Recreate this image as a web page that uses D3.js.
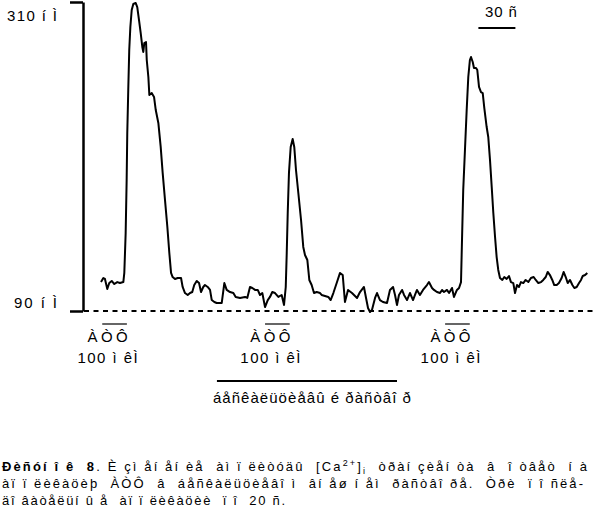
<!DOCTYPE html>
<html><head><meta charset="utf-8">
<script src="https://cdn.jsdelivr.net/npm/d3@7"></script>
<style>
body{margin:0;background:#fff}
svg{display:block}
text{font-family:"Liberation Sans",Arial,sans-serif;fill:#000;white-space:pre}
</style>
</head><body>
<svg id="c" width="594" height="523"></svg>
<script>
// ---- data ----
const timeS = [0,1.9,3.2,5.1,6.7,8.7,10.8,13.2,15.4,18.1,18.9,20.0,20.8,21.3,22.1,22.9,23.8,24.9,26.2,28.1,29.4,30.8,32.2,33.5,34.3,35.1,36.5,37.1,38.4,39.2,41.1,43.0,44.4,46.5,48.4,50.0,51.9,53.8,55.4,56.8,58.1,60.0,62.2,64.9,66.2,68.1,70.3,72.2,74.0,75.6,77.6,79.5,81.1,82.9,84.3,86.5,88.4,89.8,91.9,93.8,95.7,97.9,100.0,101.9,104.6,107.3,109.2,112.7,116.8,118.6,120.8,122.7,124.9,127.1,128.9,130.8,133.0,135.2,137.0,138.9,141.1,143.8,146.5,148.4,149.8,150.6,151.4,152.4,153.8,155.4,156.7,158.1,160.0,162.2,164.0,165.4,167.3,168.9,170.8,172.7,174.9,177.6,178.9,181.6,184.3,186.2,188.4,191.1,193.8,196.0,197.8,200.3,203.5,207.6,210.0,213.2,214.9,216.5,218.1,219.7,222.2,223.8,226.2,228.6,231.9,234.3,236.8,238.4,240.0,241.6,244.1,245.7,248.1,250.5,253.0,254.6,256.2,258.6,261.1,264.3,265.9,268.4,270.0,272.4,274.9,276.5,278.1,280.5,282.2,284.6,286.2,288.6,290.3,291.9,292.9,293.7,295.1,296.5,297.8,299.1,300.0,301.4,302.4,304.1,305.1,306.5,308.1,309.5,310.8,312.7,314.0,315.4,316.8,318.1,319.5,320.8,322.1,323.5,325.4,327.0,328.9,330.8,332.4,334.3,335.7,337.3,338.9,340.5,342.4,344.3,346.5,348.6,350.8,352.5,354.6,356.8,358.6,360.6,362.2,364.0,365.9,367.5,369.5,371.3,373.5,375.1,376.8,378.4,380.3,382.2,383.8,385.7,387.6,389.2,390.6,392.5,394.3];
const caNM = [110.6,113.5,112.8,105.7,109.9,111.4,109.2,110.6,109.9,110.6,117.1,145.5,183.3,216.7,247.4,275.8,292.2,304.3,308.6,309.3,306.4,297.2,287.9,278.0,274.4,280.8,281.5,268.7,256.6,243.8,245.2,242.4,233.1,223.9,206.8,188.3,169.0,149.8,131.3,117.1,114.2,112.8,113.5,113.5,107.1,102.8,101.4,102.8,103.5,108.5,111.4,109.9,103.5,107.1,108.5,107.1,105.0,97.8,96.4,95.7,95.7,95.7,109.9,105.0,103.5,102.8,100.0,99.3,100.0,99.3,107.1,106.4,105.0,105.0,101.4,102.8,92.8,97.8,100.0,103.5,102.8,100.0,101.4,94.3,107.1,131.3,159.8,188.3,206.8,212.5,206.8,190.4,174.0,154.8,135.6,129.9,126.3,112.1,108.5,102.8,103.5,102.8,101.4,100.7,100.0,97.8,102.8,109.9,117.1,115.6,96.4,105.0,102.8,99.3,103.5,107.1,99.3,92.1,89.3,90.7,99.3,102.8,97.8,96.4,95.7,105.0,107.1,101.4,94.3,101.4,105.0,101.4,97.8,102.8,97.8,101.4,105.0,101.4,105.0,108.5,110.6,106.4,105.0,103.5,102.8,105.0,103.5,105.0,102.8,106.4,100.0,105.0,106.4,110.6,147.7,176.2,204.6,233.1,256.6,268.7,270.8,267.3,263.0,263.0,261.6,249.5,245.9,245.2,234.5,221.0,213.9,197.6,178.3,159.8,142.7,128.4,119.2,113.5,112.1,114.2,112.8,114.9,110.6,109.9,102.8,108.5,107.1,110.6,109.9,112.1,110.6,113.5,114.2,112.1,109.9,110.6,112.1,114.2,117.8,115.6,112.1,108.5,108.5,109.9,113.5,117.8,114.2,109.9,112.1,108.5,106.4,107.1,109.9,112.1,114.9,115.6,117.1];
const yTickValues = [90, 310];
const yTickLabels = ["90 í Ì", "310 í Ì"];
const atpStarts = [1, 133, 279];
const atpDuration = 20;
const atpLabel = "ÀÒÔ";
const atpDose = "100 ì êÌ";
const solutionRange = [94, 240];
const solutionLabel = "áåñêàëüöèåâû é ðàñòâî ð";
const scaleBarStart = 306, scaleBarLength = 30;
const scaleBarLabel = "30 ñ";
const captionBold = "Ðèñóí î ê  8";
const captionLine1a = ". È çì åí åí èå  àì ï ëèòóäû  [Ca";
const captionSup = "2+";
const captionSub = "i";
const captionLine1b = "  òðàí çèåí òà  â  î òâåò  í à";
const captionLine2 = "àï ï ëèêàöèþ  ÀÒÔ  â  áåñêàëüöèåâî ì  âí åø í åì  ðàñòâî ðå.  Òðè  ï î ñëå-";
const captionLine3 = "äî âàòåëüí û å  àï ï ëèêàöèè  ï î  20 ñ.";

// ---- drawing ----
const svg = d3.select("#c");
svg.append("rect").attr("width",594).attr("height",523).attr("fill","#fff");
const x = d3.scaleLinear().domain([0, 400]).range([101, 101 + 400*37/30]);
const y = d3.scaleLinear().domain([90, 310]).range([311, 2]);
const axisX = 83;

// y axis
const yAxis = d3.axisLeft(y).tickValues(yTickValues).tickSize(13).tickSizeOuter(0).tickFormat("");
const gAx = svg.append("g").attr("transform", `translate(${axisX},0)`).call(yAxis);
gAx.select(".domain").attr("stroke","#000").attr("stroke-width",2.5);
gAx.selectAll(".tick line").attr("stroke","#000").attr("stroke-width",2.5);

yTickValues.forEach((v,i)=>{
  const top = v === d3.max(yTickValues);
  svg.append("text").attr("x", 57).attr("y", top ? y(v)+19 : y(v)-3)
    .attr("text-anchor","end").attr("font-size",15)
    .attr("textLength", top ? 50 : 43).attr("lengthAdjust","spacing")
    .text(yTickLabels[i]);
});

// dashed baseline
svg.append("line").attr("x1", axisX+1).attr("x2", 594).attr("y1", y(90)).attr("y2", y(90))
  .attr("stroke","#000").attr("stroke-width",2).attr("stroke-dasharray","5,4.5");

// trace
const pts = timeS.map((t,i)=>[t, caNM[i]]);
svg.append("path").datum(pts)
  .attr("d", d3.line().x(d=>x(d[0])).y(d=>y(d[1])))
  .attr("fill","none").attr("stroke","#000").attr("stroke-width",2).attr("stroke-linejoin","round");

// time scale bar
svg.append("line").attr("x1", x(scaleBarStart)).attr("x2", x(scaleBarStart+scaleBarLength))
  .attr("y1", 28).attr("y2", 28).attr("stroke","#000").attr("stroke-width",2);
svg.append("text").attr("x", (x(scaleBarStart)+x(scaleBarStart+scaleBarLength))/2 + 4).attr("y", 17)
  .attr("text-anchor","middle").attr("font-size",15).attr("textLength",32).attr("lengthAdjust","spacing")
  .text(scaleBarLabel);

// ATP applications
atpStarts.forEach(s=>{
  const x0 = x(s), x1 = x(s+atpDuration), cx = (x0+x1)/2 - 7;
  svg.append("line").attr("x1",x0).attr("x2",x1).attr("y1",324).attr("y2",324)
    .attr("stroke","#000").attr("stroke-width",1.2);
  svg.append("text").attr("x", cx).attr("y", 342).attr("text-anchor","middle")
    .attr("font-size",15).attr("textLength",40).attr("lengthAdjust","spacing").text(atpLabel);
  svg.append("text").attr("x", cx).attr("y", 363).attr("text-anchor","middle")
    .attr("font-size",15).attr("textLength",60).attr("lengthAdjust","spacing").text(atpDose);
});

// calcium-free solution bar
svg.append("line").attr("x1", x(solutionRange[0])).attr("x2", x(solutionRange[1]))
  .attr("y1", 381).attr("y2", 381).attr("stroke","#000").attr("stroke-width",2);
svg.append("text").attr("x", (x(solutionRange[0])+x(solutionRange[1]))/2 + 5).attr("y", 403)
  .attr("text-anchor","middle").attr("font-size",15).attr("textLength",198).attr("lengthAdjust","spacing")
  .text(solutionLabel);

// caption
const fs = 13;
const t1 = svg.append("text").attr("x",2).attr("y",471).attr("font-size",fs)
  .attr("textLength",585).attr("lengthAdjust","spacing");
t1.append("tspan").attr("font-weight","bold").text(captionBold);
t1.append("tspan").text(captionLine1a);
t1.append("tspan").attr("font-size",9).attr("dy",-5).text(captionSup);
t1.append("tspan").attr("dy",5).text("]");
t1.append("tspan").attr("font-size",9).attr("dy",3).text(captionSub);
t1.append("tspan").attr("dy",-3).text(captionLine1b);
svg.append("text").attr("x",2).attr("y",488).attr("font-size",fs)
  .attr("textLength",581).attr("lengthAdjust","spacing").text(captionLine2);
svg.append("text").attr("x",2).attr("y",505).attr("font-size",fs)
  .attr("textLength",283).attr("lengthAdjust","spacing").text(captionLine3);
</script>
</body></html>
